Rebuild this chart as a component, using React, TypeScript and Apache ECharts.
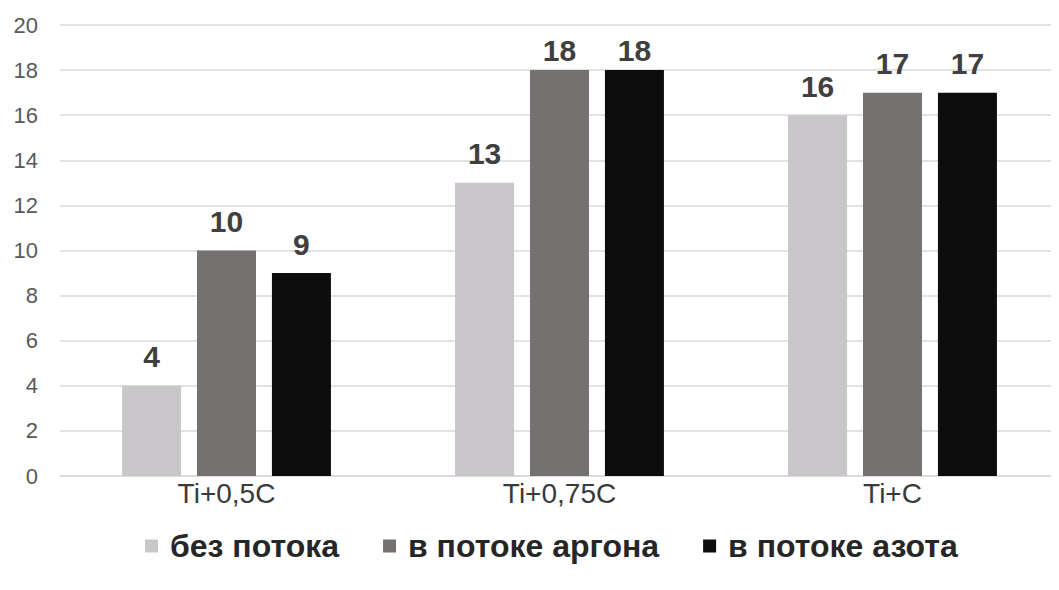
import React, { useEffect, useRef } from "react";
import * as echarts from "echarts";

const categories = ["Ti+0,5C", "Ti+0,75C", "Ti+C"];
const seriesNames = ["без потока", "в потоке аргона", "в потоке азота"];
const noFlow = [4, 13, 16];
const argon = [10, 18, 17];
const nitrogen = [9, 18, 17];
const colors = ["#c8c6c8", "#767171", "#0d0d0d"];

export default function App() {
  const ref = useRef<HTMLDivElement>(null);
  useEffect(() => {
    if (!ref.current) return;
    const chart = echarts.init(ref.current, null, { renderer: "svg" });
    const font = "'Liberation Sans', Arial, sans-serif";
    const mk = (name: string, data: number[], color: string) => ({
      name,
      type: "bar",
      data: data.map((v) => (v >= 18 ? { value: v, label: { distance: 5 } } : v)),
      barWidth: 59,
      barGap: "27%",
      itemStyle: { color },
      label: {
        show: true,
        position: "top",
        distance: 14,
        fontFamily: font,
        fontSize: 30,
        fontWeight: "bold",
        color: "#404040",
      },
    });
    chart.setOption({
      animation: false,
      textStyle: { fontFamily: font },
      grid: { left: 60, top: 25, height: 451, width: 1017 },
      legend: {
        bottom: 23,
        left: 140,
        itemWidth: 13,
        itemHeight: 13,
        itemGap: 44,
        icon: "rect",
        textStyle: { fontFamily: font, fontSize: 32, fontWeight: "bold", color: "#262626", padding: [0, 0, 0, 7] },
        data: seriesNames,
      },
      xAxis: {
        type: "category",
        data: categories,
        axisLine: { lineStyle: { color: "#d9d9d9", width: 1.5 } },
        axisTick: { show: false },
        axisLabel: { fontFamily: font, fontSize: 28, color: "#3a3a3a", margin: 3 },
      },
      yAxis: {
        type: "value",
        min: 0,
        max: 20,
        interval: 2,
        axisLine: { show: false },
        axisTick: { show: false },
        splitLine: { lineStyle: { color: "#d9d9d9", width: 1.5 } },
        axisLabel: { fontFamily: font, fontSize: 22, color: "#595959", margin: 22 },
      },
      series: [
        mk(seriesNames[0], noFlow, colors[0]),
        mk(seriesNames[1], argon, colors[1]),
        mk(seriesNames[2], nitrogen, colors[2]),
      ],
    });
    return () => chart.dispose();
  }, []);
  return <div ref={ref} style={{ width: 1059, height: 590, margin: -8 }} />;
}
